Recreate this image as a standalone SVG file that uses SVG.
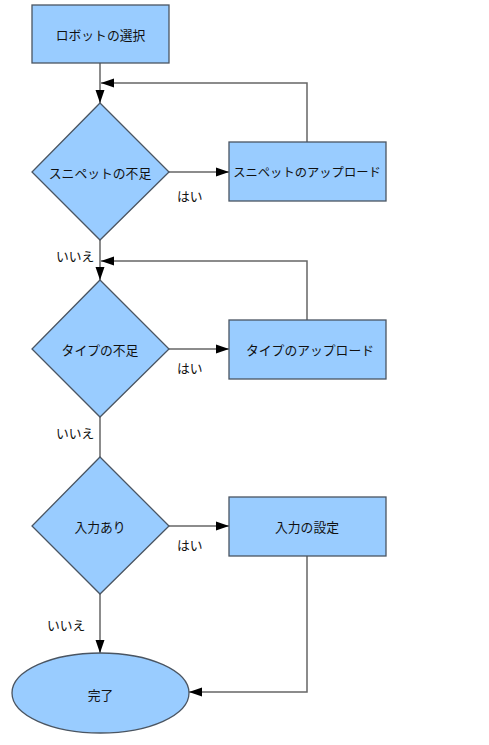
<svg xmlns="http://www.w3.org/2000/svg" width="489" height="745" viewBox="0 0 489 745">
<defs>
<marker id="arr" markerWidth="13" markerHeight="10" refX="13" refY="5" orient="auto" markerUnits="userSpaceOnUse">
<path d="M0,0.5 L13,5 L0,9.5 Z" fill="#000"/>
</marker>
<style>
.n{fill:#99CCFF;stroke:#4a5562;stroke-width:1.3}
.c{fill:none;stroke:#666;stroke-width:1.5}
text{font-family:"Noto Sans CJK JP","Liberation Sans",sans-serif;font-size:12.8px;fill:#111;text-anchor:middle;dominant-baseline:central}
.l{text-anchor:start}
</style>
</defs>
<rect width="489" height="745" fill="#fff"/>
<g id="connectors">
<path class="c" d="M100,63 V103" marker-end="url(#arr)"/>
<path class="c" d="M307,142 V83 H101" marker-end="url(#arr)"/>
<path class="c" d="M169,172 H229" marker-end="url(#arr)"/>
<path class="c" d="M100,240 V280" marker-end="url(#arr)"/>
<path class="c" d="M307,320 V261 H101" marker-end="url(#arr)"/>
<path class="c" d="M169,349 H229" marker-end="url(#arr)"/>
<path class="c" d="M100,417 V457"/>
<path class="c" d="M169,526 H229" marker-end="url(#arr)"/>
<path class="c" d="M100,594 V653" marker-end="url(#arr)"/>
<path class="c" d="M307,556 V692 H189" marker-end="url(#arr)"/>
<text class="l" x="177" y="195">はい</text>
<text class="l" x="56" y="255">いいえ</text>
<text class="l" x="177" y="367">はい</text>
<text class="l" x="56" y="432">いいえ</text>
<text class="l" x="177" y="544">はい</text>
<text class="l" x="47" y="624">いいえ</text>
</g>
<g id="robot-select">
<rect class="n" x="32" y="5" width="137" height="58"/>
<text x="100.5" y="34">ロボットの選択</text>
</g>
<g id="snippet-missing">
<polygon class="n" points="100,103 169,172 100,240 32,172"/>
<text x="100" y="172">スニペットの不足</text>
</g>
<g id="snippet-upload">
<rect class="n" x="229" y="142" width="157" height="59"/>
<text x="307" y="172" style="font-size:12.3px">スニペットのアップロード</text>
</g>
<g id="type-missing">
<polygon class="n" points="100,280 169,349 100,417 32,349"/>
<text x="100" y="349">タイプの不足</text>
</g>
<g id="type-upload">
<rect class="n" x="229" y="320" width="157" height="59"/>
<text x="310" y="349">タイプのアップロード</text>
</g>
<g id="has-input">
<polygon class="n" points="100,457 169,526 100,594 32,526"/>
<text x="100" y="526">入力あり</text>
</g>
<g id="input-setting">
<rect class="n" x="229" y="497" width="157" height="59"/>
<text x="307" y="526">入力の設定</text>
</g>
<g id="done">
<ellipse class="n" cx="100.5" cy="693" rx="88.5" ry="40"/>
<text x="100.5" y="694">完了</text>
</g>
</svg>
